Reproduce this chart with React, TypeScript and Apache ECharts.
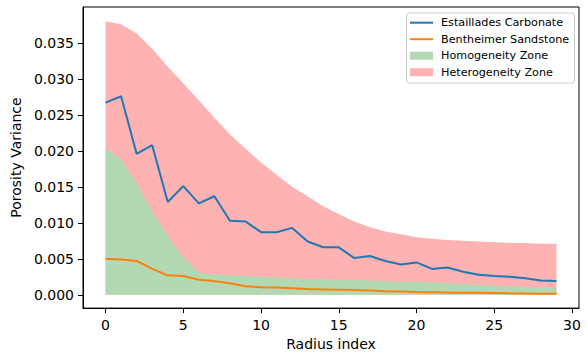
import React, { useEffect, useRef } from "react";
import * as echarts from "echarts";

const radiusIndex = [0, 1, 2, 3, 4, 5, 6, 7, 8, 9, 10, 11, 12, 13, 14, 15, 16, 17, 18, 19, 20, 21, 22, 23, 24, 25, 26, 27, 28, 29];
const estaillades = [0.0267, 0.0276, 0.0196, 0.0208, 0.0129, 0.0151, 0.0127, 0.0137, 0.0103, 0.0102, 0.0087, 0.0087, 0.0093, 0.0074, 0.0066, 0.0066, 0.0051, 0.0054, 0.0047, 0.0042, 0.0045, 0.0036, 0.0038, 0.0032, 0.0028, 0.0026, 0.0025, 0.0023, 0.002, 0.0019];
const bentheimer = [0.005, 0.0049, 0.0047, 0.0036, 0.0027, 0.0026, 0.0021, 0.0019, 0.0016, 0.0012, 0.00105, 0.001, 0.0009, 0.0008, 0.00075, 0.0007, 0.00065, 0.00058, 0.0005, 0.00045, 0.0004, 0.00036, 0.00032, 0.0003, 0.00027, 0.00024, 0.0002, 0.00017, 0.00015, 0.00014];
const homogeneityUpper = [0.0204, 0.0188, 0.0155, 0.0116, 0.0082, 0.0052, 0.0031, 0.0028, 0.0027, 0.0026, 0.0025, 0.0024, 0.0023, 0.0022, 0.0022, 0.0021, 0.0021, 0.002, 0.0019, 0.0018, 0.0018, 0.0017, 0.0016, 0.0015, 0.0014, 0.0013, 0.0012, 0.0011, 0.001, 0.0009];
const heterogeneityUpper = [0.038, 0.0376, 0.0363, 0.0342, 0.0317, 0.0294, 0.027, 0.0246, 0.0223, 0.0203, 0.0184, 0.0167, 0.015, 0.0137, 0.0123, 0.0112, 0.0102, 0.0094, 0.0088, 0.0084, 0.008, 0.0078, 0.0076, 0.0075, 0.0074, 0.0073, 0.0072, 0.0072, 0.0071, 0.0071];
const xTicks = [0, 5, 10, 15, 20, 25, 30];
const yTicks = [0, 0.005, 0.01, 0.015, 0.02, 0.025, 0.03, 0.035];

const FONT = "DejaVu Sans";

export default function App() {
  const ref = useRef<HTMLDivElement>(null);
  useEffect(() => {
    if (!ref.current) return;
    const chart = echarts.init(ref.current, null, { renderer: "svg" });
    const pair = (arr: number[]) => radiusIndex.map((x, i) => [x, arr[i]]);
    chart.setOption({
      animation: false,
      backgroundColor: "#fff",
      textStyle: { fontFamily: FONT },
      grid: { left: 83, right: 8, top: 7, bottom: 41, show: true, borderColor: "#000", borderWidth: 1, backgroundColor: "transparent" },
      xAxis: {
        type: "value",
        min: -1.45,
        max: 30.45,
        name: "Radius index",
        nameLocation: "middle",
        nameGap: 28,
        nameTextStyle: { fontFamily: FONT, fontSize: 14, color: "#000" },
        axisLine: { show: true, onZero: false, lineStyle: { color: "#000", width: 1 } },
        axisTick: { show: true, length: 5, lineStyle: { color: "#000" }, customValues: xTicks },
        axisLabel: { fontFamily: FONT, fontSize: 14, color: "#000", margin: 10, customValues: xTicks },
        splitLine: { show: false },
      },
      yAxis: {
        type: "value",
        min: -0.00185,
        max: 0.04,
        name: "Porosity Variance",
        nameLocation: "middle",
        nameGap: 49,
        nameTextStyle: { fontFamily: FONT, fontSize: 14, color: "#000" },
        axisLine: { show: true, onZero: false, lineStyle: { color: "#000", width: 1 } },
        axisTick: { show: true, length: 5, lineStyle: { color: "#000" }, customValues: yTicks },
        axisLabel: { fontFamily: FONT, fontSize: 14, color: "#000", margin: 9, customValues: yTicks, formatter: (v: number) => v.toFixed(3) },
        splitLine: { show: false },
      },
      legend: [
        {
          orient: "vertical",
          left: 410,
          top: 15.7,
          padding: 0,
          itemGap: 2.5,
          itemWidth: 23,
          itemHeight: 2,
          icon: "rect",
          itemStyle: { borderWidth: 0 },
          textStyle: { fontFamily: FONT, fontSize: 11.2, color: "#000", lineHeight: 14, padding: [0, 0, 0, 3] },
          data: ["Estaillades Carbonate", "Bentheimer Sandstone"],
        },
        {
          orient: "vertical",
          left: 410,
          top: 48.7,
          padding: 0,
          itemGap: 2.5,
          itemWidth: 23,
          itemHeight: 8,
          icon: "rect",
          itemStyle: { borderWidth: 0 },
          textStyle: { fontFamily: FONT, fontSize: 11.2, color: "#000", lineHeight: 14, padding: [0, 0, 0, 3] },
          data: ["Homogeneity Zone", "Heterogeneity Zone"],
        },
      ],
      graphic: [
        {
          type: "rect",
          left: 406,
          top: 12.5,
          z: 3,
          shape: { width: 168, height: 70, r: 3 },
          style: { fill: "rgba(255,255,255,0.8)", stroke: "#cccccc", lineWidth: 1 },
        },
      ],
      series: [
        {
          name: "Heterogeneity Zone",
          type: "line",
          data: pair(heterogeneityUpper),
          symbol: "none",
          lineStyle: { width: 0 },
          itemStyle: { color: "#ffb2b2" },
          areaStyle: { color: "#ffb2b2", opacity: 1, origin: 0 },
          z: 1,
        },
        {
          name: "Homogeneity Zone",
          type: "line",
          data: pair(homogeneityUpper),
          symbol: "none",
          lineStyle: { width: 0 },
          itemStyle: { color: "#b2d9b2" },
          areaStyle: { color: "#b2d9b2", opacity: 1, origin: 0 },
          z: 1,
        },
        {
          name: "Estaillades Carbonate",
          type: "line",
          data: pair(estaillades),
          symbol: "none",
          lineStyle: { width: 2, color: "#1f77b4" },
          itemStyle: { color: "#1f77b4" },
          z: 3,
        },
        {
          name: "Bentheimer Sandstone",
          type: "line",
          data: pair(bentheimer),
          symbol: "none",
          lineStyle: { width: 2, color: "#ff7f0e" },
          itemStyle: { color: "#ff7f0e" },
          z: 3,
        },
      ],
    });
    return () => chart.dispose();
  }, []);
  return <div ref={ref} style={{ position: "fixed", left: 0, top: 0, width: 587, height: 356, background: "#fff" }} />;
}
